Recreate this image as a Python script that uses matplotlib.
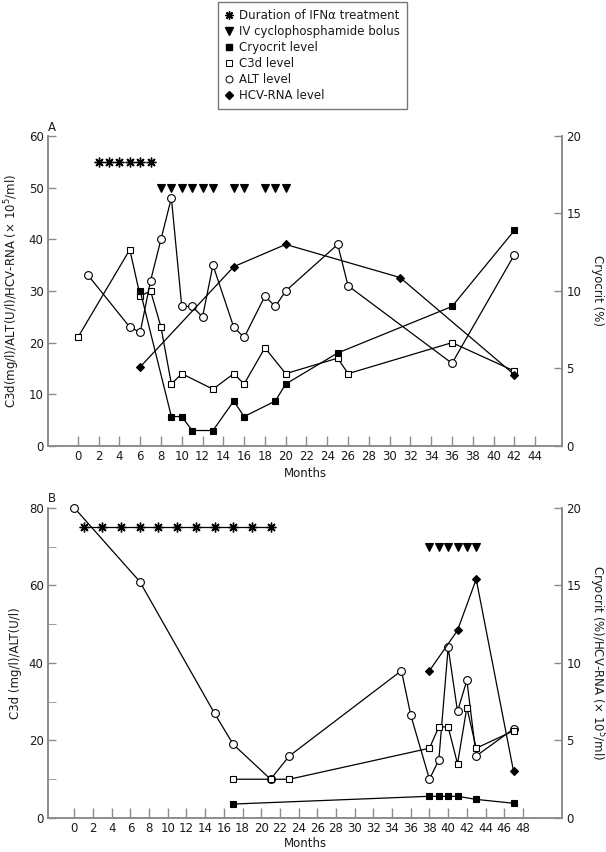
import matplotlib
matplotlib.use("Agg")
import matplotlib.pyplot as plt
from matplotlib.lines import Line2D
from matplotlib.ticker import MultipleLocator

plt.rcParams['font.family'] = ['DejaVu Sans']
plt.rcParams['mathtext.fontset'] = 'dejavusans'

# ---------------- Panel A data ----------------
a_ifn_months = [2, 3, 4, 5, 6, 7]
a_ifn_level = 55
a_cyclo_months = [8, 9, 10, 11, 12, 13, 15, 16, 18, 19, 20]
a_cyclo_level = 50
a_cryo_months = [6, 9, 10, 11, 13, 15, 16, 19, 20, 25, 36, 42]
a_cryo = [10, 1.9, 1.9, 1.0, 1.0, 2.9, 1.9, 2.9, 4.0, 6.0, 9.0, 13.9]
a_c3d_months = [0, 5, 6, 7, 8, 9, 10, 13, 15, 16, 18, 20, 25, 26, 36, 42]
a_c3d = [21, 38, 29, 30, 23, 12, 14, 11, 14, 12, 19, 14, 17, 14, 20, 14.5]
a_alt_months = [1, 5, 6, 7, 8, 9, 10, 11, 12, 13, 15, 16, 18, 19, 20, 25, 26, 36, 42]
a_alt = [33, 23, 22, 32, 40, 48, 27, 27, 25, 35, 23, 21, 29, 27, 30, 39, 31, 16, 37]
a_hcv_months = [6, 15, 20, 31, 42]
a_hcv = [15.3, 34.7, 39, 32.6, 13.8]

# ---------------- Panel B data ----------------
b_ifn_months = [1, 3, 5, 7, 9, 11, 13, 15, 17, 19, 21]
b_ifn_level = 75
b_cyclo_months = [38, 39, 40, 41, 42, 43]
b_cyclo_level = 70
b_alt_months = [0, 7, 15, 17, 21, 23, 35, 36, 38, 39, 40, 41, 42, 43, 47]
b_alt = [80, 61, 27, 19, 10, 16, 38, 26.5, 10, 15, 44, 27.5, 35.5, 16, 23]
b_c3d_months = [17, 21, 23, 38, 39, 40, 41, 42, 43, 47]
b_c3d = [10, 10, 10, 18, 23.5, 23.5, 14, 28.5, 18, 22.5]
b_cryo_months = [17, 38, 39, 40, 41, 43, 47]
b_cryo = [0.9, 1.4, 1.4, 1.4, 1.4, 1.2, 0.95]
b_hcv_months = [38, 41, 43, 47]
b_hcv = [9.5, 12.1, 15.4, 3.0]

a_xticks = list(range(0, 46, 2))
b_xticks = list(range(0, 50, 2))

legend_labels = ["Duration of IFNα treatment", "IV cyclophosphamide bolus",
                 "Cryocrit level", "C3d level", "ALT level", "HCV-RNA level"]

SPINE = '#8c8c8c'
TXT = '#1a1a1a'
LW = 0.9
FS = 8.5
STAR = (8, 2, 0)
MS_O = 5.6
MS_S = 4.7
MS_D = 4.3

fig = plt.figure(figsize=(6.06, 8.52), dpi=100)

def style(ax, ax2, xlim, ylim, y2lim, xticks):
    ax.set_xlim(*xlim)
    ax.set_ylim(*ylim)
    ax2.set_ylim(*y2lim)
    for a in (ax, ax2):
        a.spines['top'].set_visible(False)
        for s in ('left', 'right', 'bottom'):
            a.spines[s].set_color(SPINE)
            a.spines[s].set_linewidth(1.2)
        a.tick_params(direction='in', color=SPINE, labelcolor=TXT,
                      labelsize=FS, width=1.0)
    ax.set_xticks(xticks)
    ax.tick_params(axis='x', length=7, pad=3)
    ax.tick_params(axis='y', which='major', length=6, pad=3)
    ax.tick_params(axis='y', which='minor', length=6, direction='in', color=SPINE)
    ax2.tick_params(axis='y', length=6, pad=3)
    ax2.set_yticks([0, 5, 10, 15, 20])

def mk(ax, x, y, marker, fill, ms, line=True, zo=3, mew=0.8):
    ax.plot(x, y, linestyle='-' if line else 'none', color='black', lw=LW,
            marker=marker, markersize=ms, markerfacecolor=fill,
            markeredgecolor='black', markeredgewidth=mew, zorder=zo,
            clip_on=False)

# ---------------- Panel A ----------------
axA = fig.add_axes([0.0787, 0.4765, 0.849, 0.364])
axA2 = axA.twinx()
style(axA, axA2, (-2.9, 46.6), (0, 60), (0, 20), a_xticks)
axA.set_yticks(range(0, 61, 10))

mk(axA, a_ifn_months, [a_ifn_level] * len(a_ifn_months), STAR, 'black', 7, line=False, mew=1.0)
mk(axA, a_cyclo_months, [a_cyclo_level] * len(a_cyclo_months), 'v', 'black', 6, line=False)
mk(axA, a_c3d_months, a_c3d, 's', 'white', MS_S)
mk(axA, a_alt_months, a_alt, 'o', 'white', MS_O)
mk(axA, a_hcv_months, a_hcv, 'D', 'black', MS_D)
mk(axA2, a_cryo_months, a_cryo, 's', 'black', MS_S)

axA.set_ylabel("C3d(mg/l)/ALT(U/l)/HCV-RNA (× 10$^5$/ml)", fontsize=FS, color=TXT)
axA.yaxis.set_label_coords(-0.05, 0.5)
axA2.set_ylabel("Cryocrit (%)", fontsize=FS, color=TXT, rotation=270, va='center')
axA2.yaxis.set_label_coords(1.068, 0.5)
axA.set_xlabel("Months", fontsize=FS, color=TXT)
axA.xaxis.set_label_coords(0.5, -0.068)
axA.text(0.009, 1.028, "A", transform=axA.transAxes, ha='center', va='center',
         fontsize=FS, color=TXT)

# ---------------- Panel B ----------------
axB = fig.add_axes([0.0787, 0.0399, 0.849, 0.364])
axB2 = axB.twinx()
style(axB, axB2, (-2.85, 52.2), (0, 80), (0, 20), b_xticks)
axB.yaxis.set_major_locator(MultipleLocator(20))
axB.yaxis.set_minor_locator(MultipleLocator(10))

mk(axB, b_ifn_months, [b_ifn_level] * len(b_ifn_months), STAR, 'black', 7, line=True, mew=1.0)
mk(axB, b_cyclo_months, [b_cyclo_level] * len(b_cyclo_months), 'v', 'black', 6, line=False)
mk(axB, b_alt_months, b_alt, 'o', 'white', MS_O)
mk(axB, b_c3d_months, b_c3d, 's', 'white', MS_S)
mk(axB2, b_cryo_months, b_cryo, 's', 'black', MS_S)
mk(axB2, b_hcv_months, b_hcv, 'D', 'black', MS_D)

axB.set_ylabel("C3d (mg/l)/ALT(U/l)", fontsize=FS, color=TXT)
axB.yaxis.set_label_coords(-0.05, 0.5)
axB2.set_ylabel("Cryocrit (%)/HCV-RNA (× 10$^5$/ml)", fontsize=FS, color=TXT,
                rotation=270, va='center')
axB2.yaxis.set_label_coords(1.068, 0.5)
axB.set_xlabel("Months", fontsize=FS, color=TXT)
axB.xaxis.set_label_coords(0.5, -0.062)
axB.text(0.009, 1.031, "B", transform=axB.transAxes, ha='center', va='center',
         fontsize=FS, color=TXT)

# ---------------- Legend ----------------
handles = [
    Line2D([], [], linestyle='none', marker=STAR, color='black', markersize=6, markeredgewidth=1.0),
    Line2D([], [], linestyle='none', marker='v', color='black', markersize=5.5),
    Line2D([], [], linestyle='none', marker='s', color='black', markersize=5),
    Line2D([], [], linestyle='none', marker='s', markerfacecolor='white', markeredgecolor='black', markersize=5, markeredgewidth=0.7),
    Line2D([], [], linestyle='none', marker='o', markerfacecolor='white', markeredgecolor='black', markersize=5, markeredgewidth=0.7),
    Line2D([], [], linestyle='none', marker='D', color='black', markersize=4.5),
]
leg = fig.legend(handles, legend_labels, loc='upper center',
                 bbox_to_anchor=(312.5 / 606, 1 - 2 / 852), fontsize=FS,
                 frameon=True, fancybox=False, handlelength=0.6,
                 handletextpad=0.5, labelspacing=0.25, borderpad=0.6,
                 borderaxespad=0)
leg.get_frame().set_edgecolor('#555555')
leg.get_frame().set_linewidth(1.0)
for t in leg.get_texts():
    t.set_color(TXT)

fig.savefig("out.png", dpi=100)
